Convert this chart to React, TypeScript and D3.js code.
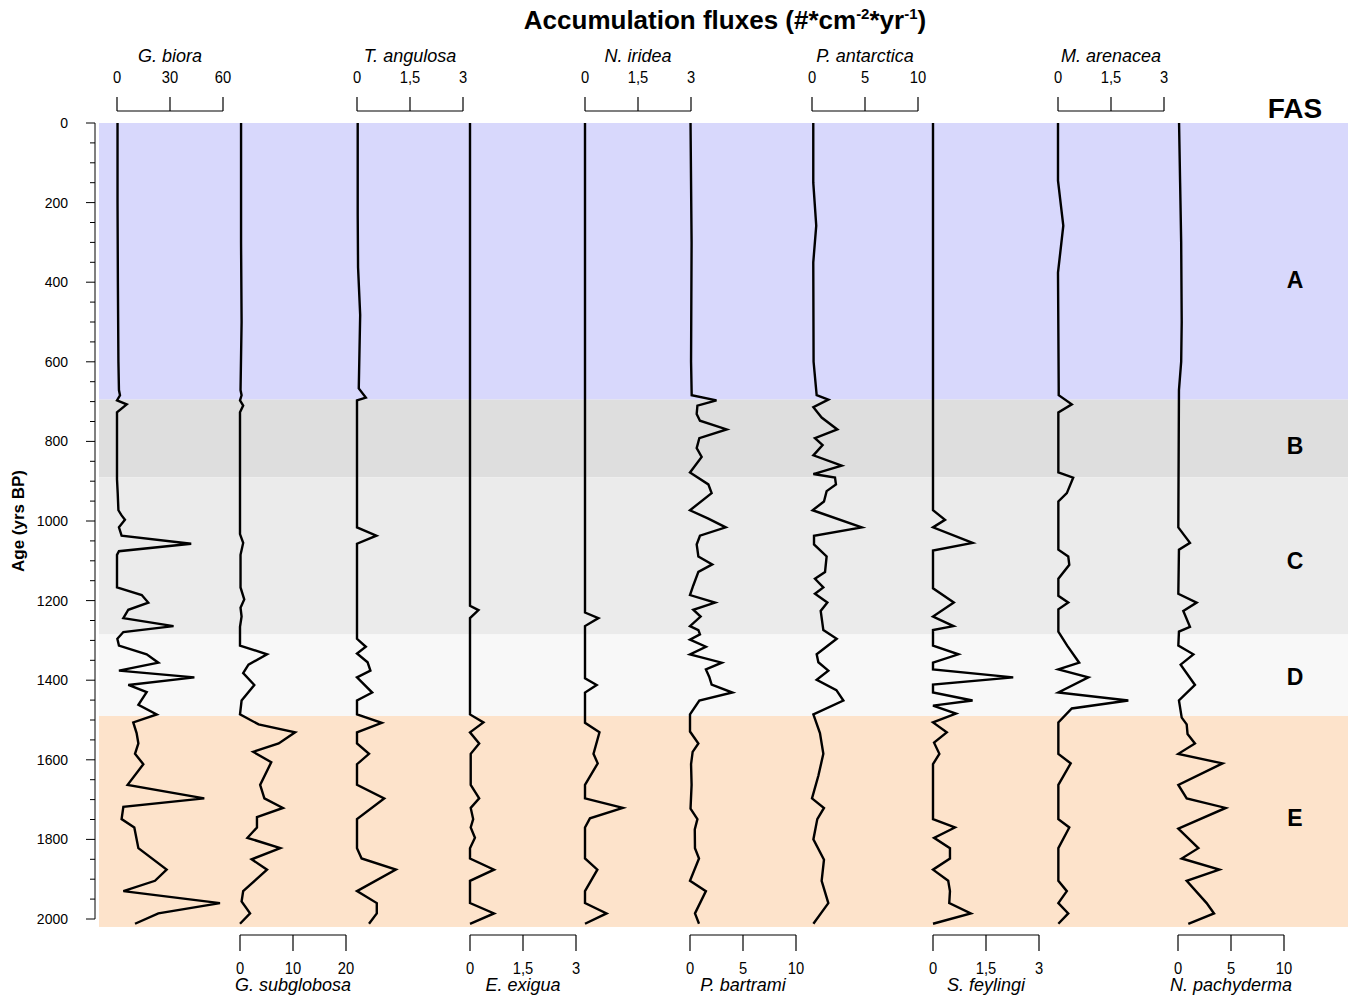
import React from "react";
import * as d3 from "d3";

const width = 1353;
const height = 998;

// zones (FAS)
const zoneNames = ["A", "B", "C", "D", "E"];
const zoneTop = [0, 695, 890, 1285, 1490];
const zoneBottom = [695, 890, 1285, 1490, 2020];
const zoneColors = ["#d8d8fc", "#dedede", "#ebebeb", "#f8f8f8", "#fde3cb"];

const ageTicks = [0, 200, 400, 600, 800, 1000, 1200, 1400, 1600, 1800, 2000];

// [age (yrs BP), flux]
const gBiora = [
  [0, 0.3], [200, 0.3], [400, 0.5], [600, 0.8], [671, 1.1], [684, 1.7], [697, 0], [707, 5.5], [727, 0],
  [895, 0], [930, 0.4], [973, 0.8], [986, 2.6], [997, 4.5], [1016, 1.1], [1037, 2.6], [1057, 42],
  [1076, 1.1], [1085, 0], [1167, 0], [1186, 14], [1205, 17.7], [1223, 6.4], [1244, 3.6], [1264, 32],
  [1279, 3.6], [1296, 0.2], [1313, 1.1], [1335, 16.8], [1356, 23.4], [1376, 1.1], [1393, 43.8],
  [1412, 6.4], [1430, 16.8], [1462, 12.1], [1486, 22.5], [1506, 9.2], [1533, 11.1], [1559, 12.1],
  [1585, 10.2], [1611, 14.9], [1663, 6], [1697, 49.4], [1718, 3.6], [1749, 2.6], [1770, 9.8],
  [1822, 12.1], [1876, 28.1], [1904, 21.5], [1930, 3.6], [1960, 58.3], [1986, 23.4], [2012, 10.2],
];

const gSubglobosa = [
  [0, 0.2], [300, 0.2], [500, 0.3], [671, 0.1], [684, 0.3], [697, 0], [710, 0.6], [727, 0], [1033, 0],
  [1055, 0.6], [1085, 0.1], [1167, 0.1], [1197, 0.8], [1218, 0.1], [1240, 0.3], [1266, 0], [1313, 0],
  [1335, 5.1], [1361, 1.6], [1382, 0.6], [1412, 2.7], [1451, 0.3], [1486, 0], [1511, 3.5], [1531, 10.4],
  [1559, 7.3], [1580, 2.5], [1606, 5.9], [1663, 3.8], [1697, 4.6], [1721, 8.1], [1744, 3.2], [1770, 3.2],
  [1796, 1.4], [1822, 7.6], [1850, 2.2], [1876, 5.1], [1930, 0.6], [1956, 0.3], [1986, 1.9], [2012, 0],
];

const tAngulosa = [
  [0, 0.02], [230, 0.02], [363, 0.03], [482, 0.09], [667, 0.05], [690, 0.25], [697, 0], [1016, 0],
  [1037, 0.55], [1057, 0], [1296, 0], [1316, 0.25], [1333, 0], [1355, 0.3], [1376, 0.38], [1393, 0],
  [1431, 0.43], [1451, 0], [1486, 0], [1507, 0.7], [1531, 0], [1559, 0], [1585, 0.34], [1611, 0],
  [1663, 0], [1697, 0.77], [1749, 0], [1822, 0], [1848, 0.13], [1876, 1.1], [1930, 0], [1960, 0.56],
  [1986, 0.56], [2012, 0.34],
];

const eExigua = [
  [0, 0], [1213, 0], [1224, 0.24], [1244, 0], [1486, 0], [1506, 0.38], [1531, 0], [1559, 0.26],
  [1585, 0.02], [1663, 0.02], [1697, 0.26], [1721, 0.02], [1749, 0.09], [1770, 0.02], [1796, 0.14],
  [1822, 0], [1848, 0], [1876, 0.68], [1904, 0], [1960, 0], [1986, 0.68], [2012, 0],
];

const nIridea = [
  [0, 0], [1230, 0], [1244, 0.38], [1264, 0], [1395, 0], [1412, 0.33], [1431, 0], [1507, 0],
  [1531, 0.41], [1585, 0.24], [1609, 0.36], [1663, 0], [1697, 0], [1721, 1.07], [1747, 0.14],
  [1770, 0], [1848, 0], [1876, 0.35], [1930, 0], [1960, 0], [1986, 0.61], [2012, 0],
];

const pBartrami = [
  [0, 0.05], [300, 0.15], [600, 0.1], [684, 0.16], [697, 2.5], [710, 0.7], [731, 0.63], [748, 0.94],
  [770, 3.46], [792, 0.88], [817, 0.63], [839, 1.1], [878, 0], [908, 1.73], [930, 2.04], [973, 0],
  [994, 1.73], [1016, 3.37], [1037, 0.94], [1059, 0.63], [1089, 0.79], [1109, 2.1], [1128, 0.79],
  [1162, 0.31], [1186, 0], [1205, 2.36], [1223, 0.31], [1240, 1.0], [1264, 0], [1274, 0.79],
  [1285, 0.94], [1298, 0], [1316, 1.5], [1335, 0], [1356, 3.0], [1373, 1.5], [1392, 1.82],
  [1411, 2.04], [1431, 4.0], [1451, 0.88], [1486, 0], [1529, 0], [1559, 0.79], [1580, 0.25],
  [1611, 0.1], [1663, 0.15], [1723, 0.05], [1749, 0.7], [1775, 0.45], [1822, 0.47], [1848, 0.85],
  [1904, 0], [1930, 1.5], [1986, 0.47], [2012, 0.85],
];

const pAntarctica = [
  [0, 0.12], [150, 0.12], [258, 0.4], [350, 0.12], [600, 0.15], [684, 0.44], [695, 1.54], [714, 0.13],
  [740, 0.91], [770, 2.39], [792, 0.28], [809, 1.0], [835, 0.13], [861, 2.8], [882, 0.13], [891, 2.17],
  [908, 2.26], [925, 1.38], [951, 1.13], [973, 0.06], [1016, 4.69], [1037, 0.19], [1059, 0.19],
  [1089, 1.38], [1128, 1.23], [1145, 0.28], [1167, 1.07], [1183, 0.28], [1205, 1.45], [1226, 0.82],
  [1274, 1.07], [1296, 2.33], [1335, 0.44], [1355, 0.6], [1376, 1.54], [1399, 0.44], [1425, 2.3],
  [1451, 2.96], [1486, 0.13], [1533, 0.75], [1585, 1.07], [1640, 0.6], [1697, 0], [1721, 1.13],
  [1749, 0.5], [1800, 0.13], [1851, 1.13], [1904, 0.91], [1960, 1.54], [2012, 0.13],
];

const sFeylingi = [
  [0, 0], [973, 0], [997, 0.34], [1016, 0], [1055, 1.12], [1074, 0], [1169, 0], [1205, 0.59],
  [1240, 0], [1264, 0.58], [1274, 0], [1313, 0], [1335, 0.72], [1356, 0], [1373, 0], [1393, 2.27],
  [1411, 0], [1431, 0], [1451, 1.12], [1464, 0], [1484, 0.65], [1506, 0], [1531, 0.39], [1557, 0.03],
  [1585, 0.18], [1611, 0], [1749, 0], [1770, 0.62], [1796, 0.03], [1822, 0.48], [1848, 0.48],
  [1876, 0], [1904, 0.43], [1930, 0.48], [1960, 0.46], [1986, 1.07], [2012, 0],
];

const mArenacea = [
  [0, 0], [145, 0], [258, 0.15], [376, 0], [667, 0.02], [684, 0.02], [707, 0.39], [727, 0.01],
  [878, 0.01], [891, 0.43], [930, 0.25], [951, 0.01], [1072, 0.01], [1089, 0.29], [1110, 0.32],
  [1145, 0.01], [1188, 0.01], [1205, 0.29], [1222, 0.01], [1278, 0.01], [1313, 0.26], [1356, 0.6],
  [1373, 0.01], [1393, 0.86], [1431, 0.01], [1451, 1.99], [1471, 0.39], [1506, 0.01], [1585, 0.01],
  [1609, 0.36], [1663, 0.01], [1749, 0.01], [1770, 0.32], [1822, 0.01], [1904, 0.01], [1930, 0.25],
  [1960, 0.01], [1986, 0.29], [2012, 0.01],
];

const nPachyderma = [
  [0, 0.1], [150, 0.2], [300, 0.3], [500, 0.35], [600, 0.3], [671, 0.09], [1016, 0.03], [1055, 1.13],
  [1072, 0.09], [1183, 0.03], [1205, 1.76], [1226, 0.5], [1266, 1.13], [1278, 0.09], [1313, 0.03],
  [1335, 1.45], [1361, 0.25], [1412, 1.6], [1451, 0.09], [1494, 0.35], [1511, 0.82], [1535, 0.9],
  [1559, 1.6], [1585, 0.03], [1609, 4.2], [1663, 0.03], [1697, 0.82], [1721, 4.5], [1773, 0.03],
  [1822, 1.92], [1848, 0.35], [1876, 3.9], [1904, 0.82], [1960, 2.7], [1986, 3.4], [2012, 0.97],
];

const seriesNames = [
  "G. biora", "G. subglobosa", "T. angulosa", "E. exigua", "N. iridea",
  "P. bartrami", "P. antarctica", "S. feylingi", "M. arenacea", "N. pachyderma",
];
const seriesData = [
  gBiora, gSubglobosa, tAngulosa, eExigua, nIridea,
  pBartrami, pAntarctica, sFeylingi, mArenacea, nPachyderma,
];
const seriesTicks = [
  [0, 30, 60], [0, 10, 20], [0, 1.5, 3], [0, 1.5, 3], [0, 1.5, 3],
  [0, 5, 10], [0, 5, 10], [0, 1.5, 3], [0, 1.5, 3], [0, 5, 10],
];

// layout of each strip (x of the zero line), axis width
const stripX = [117, 240, 357, 470, 585, 690, 812, 933, 1058, 1178];
const stripW = 106;
// where the zone letters sit (age)
const zoneLabelAt = [395, 812, 1100, 1392, 1747];

const fmt = (v) => String(v).replace(".", ",");
const narrow = "'Liberation Sans Narrow', 'Liberation Sans', Arial, sans-serif";

const App = () => {
  const y = d3.scaleLinear().domain([0, 2000]).range([123, 919]);
  const minorTicks = d3.range(0, 2001, 50);

  return (
    <svg
      width={width}
      height={height}
      style={{ position: "absolute", left: 0, top: 0, background: "#fff" }}
      fontFamily="'Liberation Sans', Arial, sans-serif"
    >
      {/* zone bands */}
      {zoneNames.map((z, i) => (
        <rect
          key={z}
          x={99}
          y={y(zoneTop[i])}
          width={1348 - 99}
          height={y(zoneBottom[i]) - y(zoneTop[i])}
          fill={zoneColors[i]}
        />
      ))}
      {zoneNames.map((z, i) => (
        <text
          key={"l" + z}
          x={1295}
          y={y(zoneLabelAt[i]) + 8}
          textAnchor="middle"
          fontWeight="bold"
          fontSize={23}
        >
          {z}
        </text>
      ))}
      <text x={1295} y={118} textAnchor="middle" fontWeight="bold" fontSize={28}>
        FAS
      </text>

      {/* title */}
      <text x={725} y={29} textAnchor="middle" fontWeight="bold" fontSize={26}>
        Accumulation fluxes (#*cm
        <tspan fontSize={15} dy={-10}>-2</tspan>
        <tspan dy={10}>*yr</tspan>
        <tspan fontSize={15} dy={-10}>-1</tspan>
        <tspan dy={10}>)</tspan>
      </text>

      {/* age axis */}
      <g>
        <line x1={95} x2={95} y1={y(0)} y2={y(2000)} stroke="#000" strokeWidth={1} />
        {minorTicks.map((t) => (
          <line
            key={t}
            x1={t % 200 === 0 ? 86 : 90}
            x2={95}
            y1={y(t)}
            y2={y(t)}
            stroke="#000"
            strokeWidth={1}
          />
        ))}
        {ageTicks.map((t) => (
          <text key={t} x={68} y={y(t) + 5} textAnchor="end" fontSize={14} fontFamily={narrow}>
            {t}
          </text>
        ))}
        <text
          transform={`translate(24,${y(1000)}) rotate(-90)`}
          textAnchor="middle"
          fontWeight="bold"
          fontSize={17}
        >
          Age (yrs BP)
        </text>
      </g>

      {/* strips */}
      {seriesData.map((data, i) => {
        const ticks = seriesTicks[i];
        const x = d3
          .scaleLinear()
          .domain([0, ticks[ticks.length - 1]])
          .range([stripX[i], stripX[i] + stripW]);
        const path = d3
          .line()
          .x((d) => x(d[1]))
          .y((d) => y(d[0]))(data);
        const top = i % 2 === 0;
        const axisY = top ? 111 : 935;
        const tickEnd = top ? 97 : 951;
        return (
          <g key={seriesNames[i]}>
            <path d={path} fill="none" stroke="#000" strokeWidth={2.4} strokeLinejoin="miter" strokeMiterlimit={4} />
            <line x1={x(0)} x2={x(ticks[ticks.length - 1])} y1={axisY} y2={axisY} stroke="#000" strokeWidth={1.2} />
            {ticks.map((t) => (
              <g key={t}>
                <line x1={x(t)} x2={x(t)} y1={axisY} y2={tickEnd} stroke="#000" strokeWidth={1.2} />
                <text
                  transform={`translate(${x(t)},${top ? 82.5 : 973.5}) scale(0.92,1)`}
                  textAnchor="middle"
                  fontSize={16}
                  fontFamily={narrow}
                >
                  {fmt(t)}
                </text>
              </g>
            ))}
            <text
              x={x(ticks[1])}
              y={top ? 62 : 991}
              textAnchor="middle"
              fontStyle="italic"
              fontSize={18}
            >
              {seriesNames[i]}
            </text>
          </g>
        );
      })}
    </svg>
  );
};

export default App;
